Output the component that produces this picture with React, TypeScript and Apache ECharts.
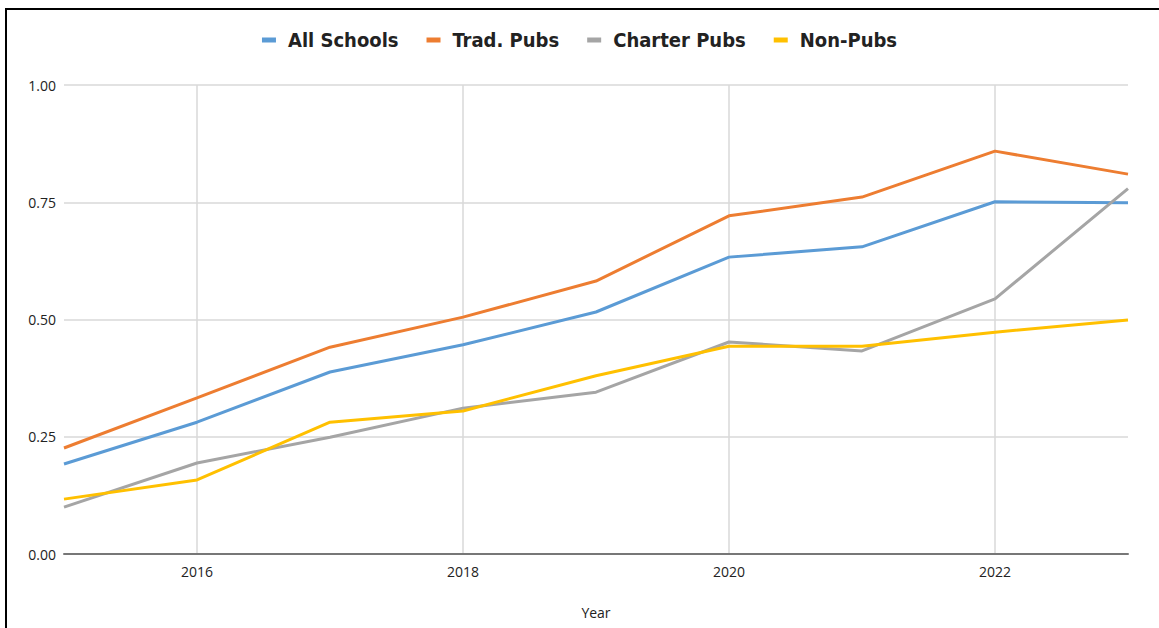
import React, { useEffect, useRef } from "react";
import * as echarts from "echarts";

const years = ["2015", "2016", "2017", "2018", "2019", "2020", "2021", "2022", "2023"];
const allSchools = [0.192, 0.281, 0.388, 0.446, 0.516, 0.633, 0.655, 0.751, 0.749];
const tradPubs = [0.226, 0.333, 0.441, 0.505, 0.582, 0.721, 0.761, 0.859, 0.81];
const charterPubs = [0.1, 0.194, 0.249, 0.311, 0.345, 0.452, 0.433, 0.544, 0.779];
const nonPubs = [0.117, 0.158, 0.281, 0.305, 0.38, 0.443, 0.443, 0.473, 0.499];
const yTicks = [0, 0.25, 0.5, 0.75, 1];

const seriesDefs = [
  { name: "All Schools", data: allSchools, color: "#5B9BD5" },
  { name: "Trad. Pubs", data: tradPubs, color: "#ED7D31" },
  { name: "Charter Pubs", data: charterPubs, color: "#A5A5A5" },
  { name: "Non-Pubs", data: nonPubs, color: "#FFC000" },
];

const labelFont = "'Open Sans', 'Liberation Sans', sans-serif";

export default function App() {
  const ref = useRef<HTMLDivElement>(null);
  useEffect(() => {
    if (!ref.current) return;
    const chart = echarts.init(ref.current, undefined, { renderer: "svg" });
    chart.setOption({
      animation: false,
      backgroundColor: "#ffffff",
      legend: {
        top: 25,
        left: "center",
        itemWidth: 14,
        itemHeight: 5,
        itemGap: 28,
        icon: "rect",
        textStyle: {
          fontFamily: "'Liberation Sans Narrow', 'DejaVu Sans Condensed', 'Open Sans', sans-serif",
          fontWeight: "bold",
          fontSize: 20,
          color: "#222",
          padding: [0, 0, 0, 7],
        },
        data: seriesDefs.map((s) => s.name),
      },
      grid: { left: 64, right: 31, top: 85, bottom: 74, containLabel: false },
      xAxis: {
        type: "category",
        data: years,
        boundaryGap: false,
        name: "Year",
        nameLocation: "middle",
        nameGap: 51,
        nameTextStyle: { fontFamily: labelFont, fontSize: 14, color: "#222" },
        axisLine: { lineStyle: { color: "#777", width: 2 } },
        axisTick: { show: false },
        axisLabel: {
          interval: (i: number) => i % 2 === 1,
          fontFamily: labelFont,
          fontSize: 14,
          color: "#222",
          margin: 10,
        },
        splitLine: {
          show: true,
          interval: (i: number) => i % 2 === 1,
          lineStyle: { color: "#d9d9d9", width: 1.5 },
        },
      },
      yAxis: {
        type: "value",
        min: yTicks[0],
        max: yTicks[yTicks.length - 1],
        interval: 0.25,
        axisLine: { show: false },
        axisTick: { show: false },
        axisLabel: {
          formatter: (v: number) => v.toFixed(2),
          fontFamily: labelFont,
          fontSize: 14,
          color: "#222",
          margin: 8,
        },
        splitLine: { lineStyle: { color: "#d9d9d9", width: 1.5 } },
      },
      series: seriesDefs.map((s) => ({
        name: s.name,
        type: "line",
        data: s.data,
        symbol: "none",
        color: s.color,
        lineStyle: { width: 3, color: s.color },
      })),
    });
    return () => chart.dispose();
  }, []);
  return (
    <>
      <div
        ref={ref}
        style={{ position: "fixed", left: 0, top: 0, width: 1159, height: 628 }}
      />
      <div
        style={{
          position: "fixed",
          left: 5,
          top: 8,
          width: 1300,
          height: 800,
          borderLeft: "2px solid #000",
          borderTop: "2px solid #000",
          pointerEvents: "none",
        }}
      />
    </>
  );
}
